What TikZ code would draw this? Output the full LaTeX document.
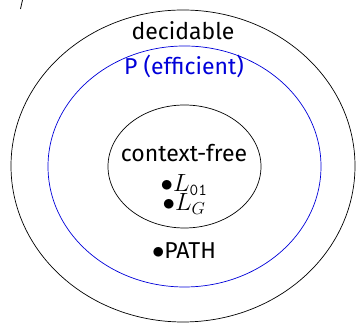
\documentclass[tikz,border=0pt]{standalone}
\usepackage{fontspec}
\setmainfont{Fira Sans}
\begin{document}
\begin{tikzpicture}[x=1pt,y=1pt,
  setline/.style={line width=0.7pt},
  lbl/.style={font=\fontsize{23}{27}\selectfont, inner sep=0pt, anchor=base}]
\useasboundingbox (0,0) rectangle (356,323);
\draw[setline] (183,157) ellipse [x radius=172, y radius=156];
\draw[setline, blue!85!black] (184.5,156.5) ellipse [x radius=136.5, y radius=120.5];
\draw[setline] (184.5,156.5) ellipse [x radius=76.5, y radius=61.5];
\node[lbl] (dec) at (183,283) {decidable};
\node[lbl, text=blue!85!black] (p) at (184,248) {P (efficient)};
\node[lbl, text height=14pt, text depth=0pt] (cf) at (184,161) {context-free};
\node[lbl, align=center, font={\fontsize{24}{19.5}\selectfont\lineskiplimit=-30pt}] (langs) at (184,112)
  {$\bullet L_{\mathtt{01}}$\\$\bullet L_G$};
\node[lbl] (path) at (184,64) {$\bullet$PATH};
\draw[line width=0.8pt] (22.5,323) -- (20.5,314);
\end{tikzpicture}
\end{document}
